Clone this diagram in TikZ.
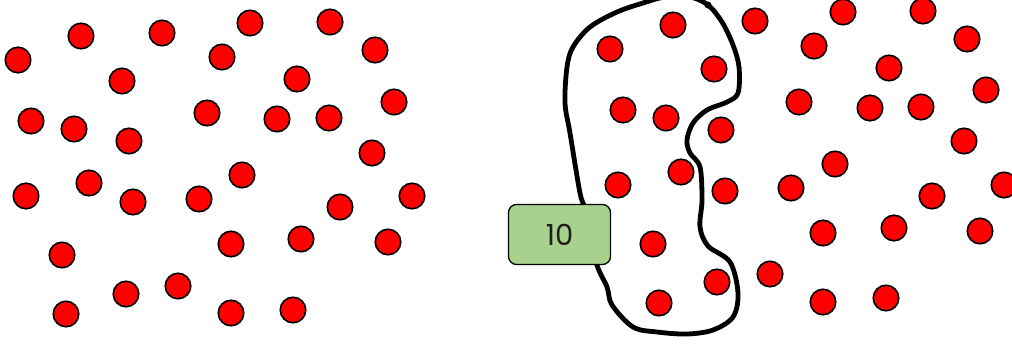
\documentclass[tikz,border=0pt]{standalone}
\usepackage{fontspec}
\newfontfamily\gothic{Poppins}
\definecolor{boxgreen}{RGB}{169,209,142}
\definecolor{dotred}{RGB}{255,0,0}
\definecolor{txt}{RGB}{30,30,30}
\begin{document}
\begin{tikzpicture}[x=1pt,y=-1pt,
  dot/.style={circle,minimum size=25.5pt,inner sep=0pt,fill=dotred,draw=black,line width=1.6pt},
  blob/.style={draw=black,line width=4.8pt,line join=round},
  labelbox/.style={rectangle,rounded corners=8pt,fill=boxgreen,draw=black,line width=1.3pt,
    minimum width=102pt,minimum height=60pt,inner sep=0pt,font=\gothic\fontsize{29}{32}\selectfont,text=txt}]
\useasboundingbox (0,0) rectangle (1012,343);
\clip (0,0) rectangle (1012,343);
% left group
\foreach \i/\x/\y in {1/18/60,2/81/36,3/162/33,4/250/23,5/330/22,6/222/57,7/375/50,8/122/81,9/297/79,10/394/102,
  11/31/121,12/74/129,13/129/141,14/207/113,15/277/119,16/329/118,17/372/153,18/242/175,19/26/196,20/89/183,
  21/133/202,22/199/199,23/340/207,24/412/196,25/62/255,26/231/244,27/301/239,28/388/242,29/66/314,30/126/294,
  31/178/286,32/231/313,33/293/310}
  \node[dot] (l\i) at (\x,\y) {};
% middle group (inside outline)
\foreach \i/\x/\y in {1/610/49,2/673/25,3/714/69,4/623/110,5/666/118,6/721/130,7/681/172,8/618/185,9/725/191,
  10/653/244,11/717/282,12/659/303}
  \node[dot] (m\i) at (\x,\y) {};
% right group
\foreach \i/\x/\y in {1/755/21,2/843/12,3/923/11,4/814/46,5/967/39,6/889/68,7/799/102,8/870/108,9/921/107,
  10/986/90,11/964/141,12/835/164,13/791/188,14/932/196,15/1004/185,16/823/233,17/894/228,18/980/231,
  19/770/274,20/823/302,21/886/298}
  \node[dot] (r\i) at (\x,\y) {};
% outline
\draw[blob] plot[smooth cycle,tension=0.55] coordinates {
  (643,3) (617,12) (590,27) (573,47) (567,67) (565,103) (570,133) (580,193) (586,212) (596,262)
  (607,287) (612,305) (633,327) (657,332) (687,334) (713,330) (733,317) (738,293) (730,262)
  (708,246) (700,227) (702,200) (700,167) (690,153) (687,140) (693,123) (707,110) (727,102)
  (738,93) (739,67) (733,45) (722,22) (708,5) (690,-3) (665,-3)};
\fill[black] (708,5) circle (3.5pt);
\node[labelbox] (lbl) at (559.5,234.5) {10};
\end{tikzpicture}
\end{document}
